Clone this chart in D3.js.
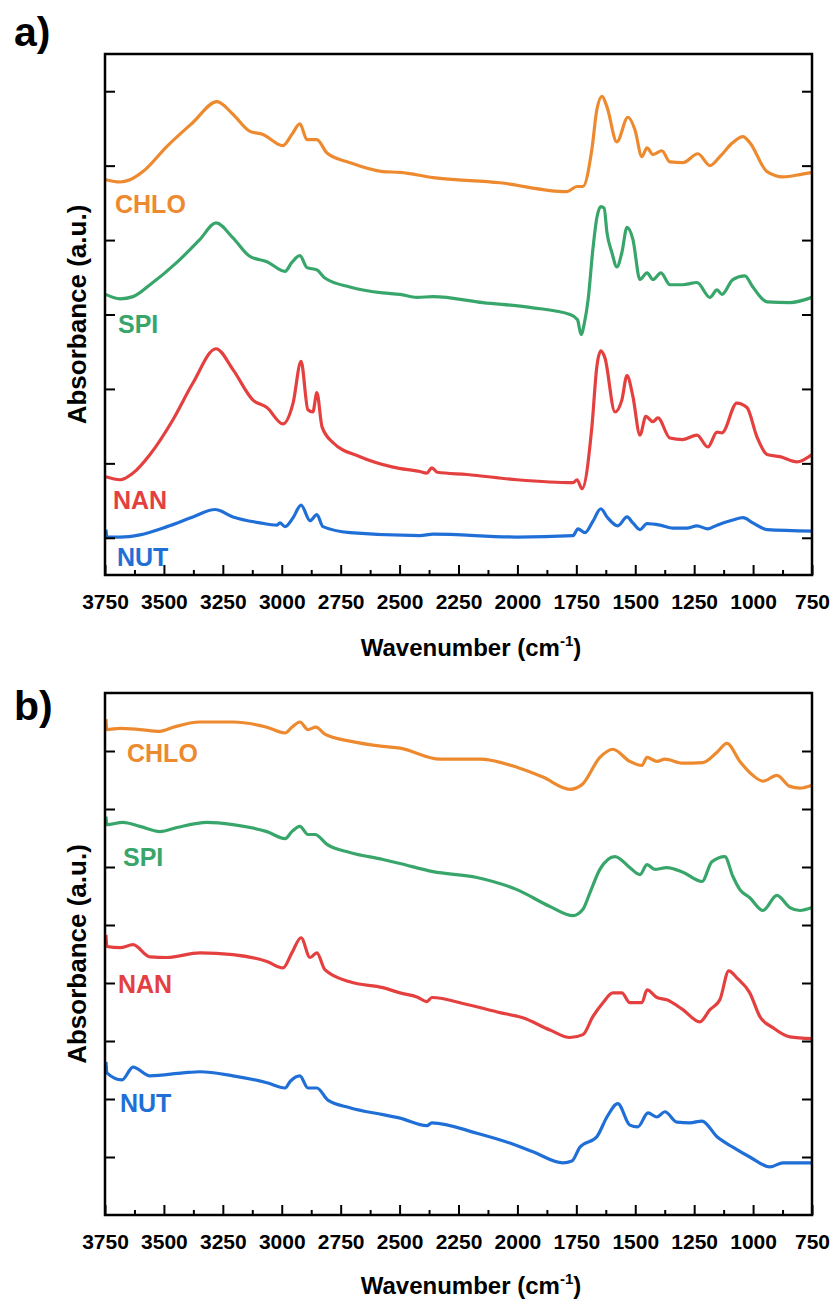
<!DOCTYPE html>
<html>
<head>
<meta charset="utf-8">
<script src="https://cdn.jsdelivr.net/npm/d3@7"></script>
<style>
    body { margin: 0; background: #fff; }
    .chart text { font-family: "Liberation Sans", Arial, sans-serif; font-weight: bold; }
    .axis path { display: none; }
    .axis line { stroke: #000; stroke-width: 2; }
    .axis text { font-size: 21px; fill: #000; }
</style>
</head>
<body>
<div class="chart"></div>
<script>

//Spectra: [wavenumber (cm-1), absorbance (a.u., offset)]
//Panel a

let chloA = [[3746,5.81],[3686,5.78],[3644,5.81],[3589,5.92],[3487,6.26],[3377,6.58],[3275,6.86],[3207,6.69],
    [3135,6.46],[3080,6.42],[2995,6.27],[2957,6.42],[2923,6.56],[2893,6.35],[2851,6.35],[2808,6.17],[2711,6.04],
    [2571,5.92],[2498,5.91],[2358,5.84],[2074,5.77],[1790,5.65],[1747,5.72],[1722,5.72],[1684,6.22],[1663,6.75],
    [1641,6.93],[1620,6.79],[1578,6.32],[1531,6.65],[1501,6.48],[1472,6.12],[1450,6.24],[1425,6.15],[1387,6.20],
    [1353,6.05],[1298,6.04],[1234,6.16],[1183,6.00],[1141,6.12],[1086,6.31],[1043,6.39],[1014,6.31],[941,5.92],
    [873,5.85],[801,5.88],[750,5.91]];

let spiA = [[3746,4.27],[3686,4.21],[3631,4.24],[3559,4.40],[3445,4.70],[3347,5.01],[3279,5.23],[3207,5.03],
    [3135,4.78],[3063,4.71],[2986,4.58],[2957,4.70],[2923,4.79],[2893,4.63],[2851,4.60],[2817,4.49],[2711,4.37],
    [2571,4.29],[2498,4.27],[2426,4.23],[2358,4.24],[2146,4.16],[1934,4.09],[1777,4.00],[1745,3.93],[1730,3.73],
    [1715,3.90],[1700,4.20],[1680,4.87],[1663,5.30],[1646,5.45],[1632,5.43],[1620,5.10],[1599,4.83],[1578,4.64],
    [1557,4.83],[1535,5.17],[1510,5.01],[1480,4.47],[1450,4.56],[1425,4.47],[1391,4.56],[1353,4.40],[1298,4.40],
    [1238,4.43],[1183,4.23],[1153,4.33],[1132,4.27],[1086,4.47],[1035,4.52],[1001,4.37],[941,4.17],[844,4.16],
    [750,4.23]];

let nanA = [[3746,1.82],[3686,1.78],[3631,1.87],[3559,2.12],[3461,2.59],[3377,3.08],[3279,3.54],[3207,3.26],
    [3122,2.85],[3063,2.75],[2995,2.53],[2952,2.81],[2918,3.37],[2889,2.72],[2868,2.69],[2851,2.95],[2829,2.49],
    [2783,2.28],[2668,2.09],[2528,1.95],[2414,1.89],[2384,1.87],[2363,1.94],[2340,1.88],[2214,1.85],[2002,1.78],
    [1764,1.74],[1747,1.78],[1726,1.66],[1684,2.49],[1663,3.30],[1646,3.51],[1629,3.42],[1586,2.69],[1557,2.85],
    [1535,3.18],[1510,2.90],[1480,2.38],[1455,2.63],[1425,2.56],[1404,2.61],[1353,2.34],[1298,2.32],[1238,2.38],
    [1192,2.22],[1153,2.42],[1132,2.41],[1069,2.81],[1026,2.75],[984,2.36],[941,2.12],[886,2.09],[814,2.02],
    [750,2.12]];

let nutA = [[3746,1.11],[3742,1.01],[3686,1.01],[3602,1.04],[3487,1.15],[3377,1.28],[3283,1.38],[3207,1.28],
    [3092,1.20],[3020,1.17],[3008,1.20],[2986,1.15],[2952,1.27],[2918,1.44],[2880,1.23],[2851,1.31],[2825,1.15],
    [2711,1.07],[2414,1.03],[2358,1.05],[2002,1.01],[1764,1.03],[1743,1.12],[1713,1.07],[1680,1.22],[1646,1.39],
    [1620,1.28],[1574,1.16],[1535,1.28],[1510,1.20],[1480,1.11],[1450,1.19],[1395,1.17],[1340,1.13],[1281,1.13],
    [1238,1.16],[1192,1.12],[1153,1.17],[1086,1.24],[1043,1.27],[1001,1.20],[941,1.11],[750,1.09]];

//Panel b

let chloB = [[3746,8.55],[3742,8.37],[3686,8.39],[3602,8.37],[3517,8.34],[3461,8.41],[3347,8.50],[3207,8.50],
    [3063,8.41],[2986,8.31],[2957,8.41],[2923,8.50],[2889,8.37],[2855,8.41],[2817,8.29],[2711,8.17],[2571,8.08],
    [2498,8.05],[2329,7.86],[2159,7.86],[2002,7.72],[1892,7.55],[1777,7.34],[1726,7.42],[1650,7.89],[1595,8.03],
    [1523,7.82],[1472,7.75],[1450,7.89],[1408,7.82],[1374,7.86],[1298,7.79],[1213,7.80],[1153,7.98],[1111,8.13],
    [1056,7.82],[1001,7.58],[958,7.48],[899,7.58],[844,7.39],[801,7.36],[750,7.41]];

let spiB = [[3746,6.87],[3742,6.73],[3674,6.77],[3602,6.70],[3517,6.61],[3445,6.68],[3317,6.77],[3207,6.73],
    [3063,6.61],[2986,6.49],[2957,6.61],[2923,6.70],[2889,6.56],[2859,6.56],[2808,6.39],[2711,6.25],[2571,6.13],
    [2498,6.06],[2358,5.92],[2172,5.82],[2002,5.61],[1862,5.32],[1764,5.16],[1722,5.27],[1692,5.56],[1650,5.96],
    [1586,6.18],[1523,5.99],[1480,5.87],[1450,6.04],[1417,5.96],[1366,5.99],[1298,5.91],[1217,5.75],[1175,6.09],
    [1120,6.18],[1086,5.84],[1056,5.61],[1014,5.47],[958,5.25],[899,5.51],[844,5.30],[801,5.25],[750,5.30]];

let nanB = [[3746,4.83],[3742,4.63],[3686,4.61],[3631,4.66],[3559,4.45],[3487,4.44],[3347,4.52],[3207,4.49],
    [3063,4.37],[2995,4.26],[2957,4.52],[2918,4.78],[2880,4.44],[2851,4.52],[2817,4.23],[2711,4.02],[2571,3.92],
    [2498,3.83],[2426,3.76],[2384,3.68],[2363,3.75],[2214,3.63],[2074,3.49],[1977,3.40],[1862,3.19],[1777,3.06],
    [1722,3.11],[1680,3.42],[1637,3.66],[1595,3.83],[1557,3.83],[1523,3.66],[1472,3.66],[1450,3.88],[1408,3.75],
    [1366,3.71],[1298,3.54],[1226,3.33],[1183,3.54],[1141,3.71],[1103,4.21],[1069,4.09],[1014,3.83],[971,3.42],
    [916,3.23],[844,3.07],[750,3.04]];

let nutB = [[3746,2.64],[3742,2.45],[3678,2.33],[3631,2.55],[3559,2.40],[3419,2.45],[3347,2.47],[3207,2.40],
    [3063,2.28],[2986,2.19],[2965,2.30],[2923,2.40],[2889,2.19],[2851,2.19],[2804,1.98],[2711,1.85],[2571,1.73],
    [2498,1.67],[2384,1.54],[2363,1.59],[2172,1.41],[2032,1.24],[1934,1.09],[1807,0.90],[1769,0.93],[1735,1.17],
    [1663,1.35],[1620,1.69],[1574,1.92],[1523,1.55],[1489,1.52],[1446,1.76],[1408,1.69],[1374,1.78],[1323,1.60],
    [1268,1.59],[1217,1.62],[1153,1.35],[1086,1.17],[1014,1.00],[929,0.83],[873,0.90],[750,0.90]];

let seriesNames = ["CHLO", "SPI", "NAN", "NUT"];
let seriesColors = ["#ED8A2F", "#38A66B", "#E4403F", "#1F6FD7"];

let xTicks = [3750, 3500, 3250, 3000, 2750, 2500, 2250, 2000, 1750, 1500, 1250, 1000, 750];
let xMinorTicks = [3625, 3375, 3125, 2875, 2625, 2375, 2125, 1875, 1625, 1375, 1125, 875];
let yTicksA = [1, 2, 3, 4, 5, 6, 7];
let yTicksB = [1, 2, 3, 4, 5, 6, 7, 8];


let chart = {};

init();


function init() {
    chart.svg = d3.select(".chart").append("svg")
        .attr("width", 835)
        .attr("height", 1300);

    //one entry per panel, the layout bits live here (not in the data)
    chart.panels = [
        {
            letter: "a)", letterY: 46,
            top: 54, bottom: 575,
            yDomain: [0.5, 7.5], yTicks: yTicksA,
            series: [chloA, spiA, nanA, nutA],
            labels: [[115, 213], [118, 333], [113, 509], [117, 566]],
            titleY: 656
        },
        {
            letter: "b)", letterY: 720,
            top: 693, bottom: 1215,
            yDomain: [0, 9], yTicks: yTicksB,
            series: [chloB, spiB, nanB, nutB],
            labels: [[127, 762], [123, 866], [118, 993], [120, 1112]],
            titleY: 1294
        }
    ];

    chart.left = 105;
    chart.right = 812;

    chart.panels.forEach(p => drawPanel(p));
}


function drawPanel(p) {

    let xScale = d3.scaleLinear()
        .domain([3750, 750])
        .range([chart.left, chart.right]);

    let yScale = d3.scaleLinear()
        .domain(p.yDomain)
        .range([p.bottom, p.top]);

    let g = chart.svg.append("g");

    //spectra
    let line = d3.line()
        .x(d => xScale(d[0]))
        .y(d => yScale(d[1]))
        .curve(d3.curveMonotoneX);

    p.series.forEach((s, i) => {
        g.append("path")
            .datum(s)
            .attr("d", line)
            .attr("fill", "none")
            .attr("stroke", seriesColors[i])
            .attr("stroke-width", 3.2)
            .attr("stroke-linejoin", "round");
    });

    //axes - ticks point inward
    g.append("g")
        .attr("class", "axis")
        .attr("transform", `translate(0,${p.bottom})`)
        .call(d3.axisBottom(xScale).tickValues(xTicks).tickSize(-10).tickPadding(19).tickFormat(d3.format("d")));

    g.append("g")
        .attr("class", "axis")
        .attr("transform", `translate(0,${p.bottom})`)
        .call(d3.axisBottom(xScale).tickValues(xMinorTicks).tickSize(-5).tickFormat(""));

    g.append("g")
        .attr("class", "axis")
        .attr("transform", `translate(${chart.left},0)`)
        .call(d3.axisLeft(yScale).tickValues(p.yTicks).tickSize(-10).tickFormat(""));

    g.append("g")
        .attr("class", "axis")
        .attr("transform", `translate(${chart.right},0)`)
        .call(d3.axisRight(yScale).tickValues(p.yTicks).tickSize(-10).tickFormat(""));

    //frame
    g.append("rect")
        .attr("x", chart.left)
        .attr("y", p.top)
        .attr("width", chart.right - chart.left)
        .attr("height", p.bottom - p.top)
        .attr("fill", "none")
        .attr("stroke", "#000")
        .attr("stroke-width", 2.5);

    //series labels
    seriesNames.forEach((name, i) => {
        g.append("text")
            .attr("x", p.labels[i][0])
            .attr("y", p.labels[i][1])
            .attr("fill", seriesColors[i])
            .style("font-size", "25px")
            .text(name);
    });

    //titles
    let xt = g.append("text")
        .attr("x", 471)
        .attr("y", p.titleY)
        .attr("text-anchor", "middle")
        .style("font-size", "24px")
        .text("Wavenumber (cm");
    xt.append("tspan").attr("dy", -10).style("font-size", "15px").text("-1");
    xt.append("tspan").attr("dy", 10).text(")");

    g.append("text")
        .attr("transform", `translate(86,${(p.top + p.bottom) / 2}) rotate(-90)`)
        .attr("text-anchor", "middle")
        .style("font-size", "26px")
        .text("Absorbance (a.u.)");

    g.append("text")
        .attr("x", 14)
        .attr("y", p.letterY)
        .style("font-size", "41px")
        .text(p.letter);
}

</script>
</body>
</html>
